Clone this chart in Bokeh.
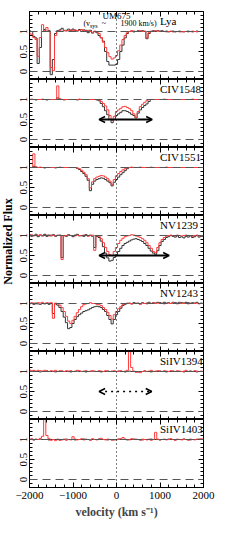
import math
from bokeh.plotting import figure
from bokeh.layouts import column, row
from bokeh.models import (Range1d, FixedTicker, LinearAxis, Span, Label, Arrow,
                          OpenHead, ColumnDataSource)
from bokeh.embed import file_html
from bokeh.resources import INLINE

# ---------------- data ----------------
VELOCITY = [
    -2000, -1950, -1900, -1850, -1800, -1750, -1700, -1650, -1600, -1550,
    -1500, -1450, -1400, -1350, -1300, -1250, -1200, -1150, -1100, -1050,
    -1000, -950, -900, -850, -800, -750, -700, -650, -600, -550,
    -500, -450, -400, -350, -300, -250, -200, -150, -100, -50,
    0, 50, 100, 150, 200, 250, 300, 350, 400, 450,
    500, 550, 600, 650, 700, 750, 800, 850, 900, 950,
    1000, 1050, 1100, 1150, 1200, 1250, 1300, 1350, 1400, 1450,
    1500, 1550, 1600, 1650, 1700, 1750, 1800, 1850, 1900, 1950,
    2000]

LYA_BLACK = [
    1.02, 1.00, 0.88, 0.84, 0.20, 0.60, 1.00, 1.05, 1.00, 1.02,
    -0.08, 0.30, 0.95, 1.02, 1.04, 1.08, 1.02, 1.03, 1.06, 1.02,
    1.06, 1.03, 1.01, 1.05, 1.00, 1.04, 1.03, 0.97, 1.03, 0.96,
    1.00, 0.97, 0.90, 0.84, 0.76, 0.50, 0.25, 0.16, 0.16, 0.16,
    0.18, 0.30, 0.50, 0.66, 0.84, 0.95, 1.00, 1.01, 0.99, 1.00,
    1.02, 1.00, 1.02, 1.00, 0.82, 0.95, 1.00, 1.02, 1.00, 1.02,
    1.01, 1.02, 1.00, 1.01, 0.99, 1.00, 1.01, 0.99, 1.00, 1.01,
    1.00, 0.99, 1.00, 1.01, 1.00, 0.99, 1.00, 1.01, 1.00, 1.00,
    1.00]
LYA_RED = [
    0.96, 0.93, 0.85, 0.80, 0.38, 0.85, 1.17, 1.02, 1.10, 1.00,
    0.10, 0.02, 0.90, 1.00, 1.02, 1.00, 1.03, 1.01, 1.02, 1.04,
    1.02, 1.04, 1.02, 1.03, 1.05, 1.02, 1.01, 1.03, 1.00, 0.98,
    1.01, 0.99, 0.95, 0.85, 0.73, 0.60, 0.47, 0.37, 0.31, 0.34,
    0.40, 0.52, 0.66, 0.80, 0.90, 0.97, 1.00, 1.02, 1.01, 1.00,
    1.01, 1.02, 1.00, 1.01, 0.84, 0.97, 1.01, 1.00, 1.02, 1.01,
    1.00, 1.01, 1.00, 0.99, 1.00, 1.01, 0.99, 1.00, 1.00, 0.99,
    0.99, 1.00, 1.00, 0.99, 1.00, 1.01, 1.00, 0.99, 1.00, 1.00,
    1.00]

CIV1548_BLACK = [
    1.00, 1.00, 1.00, 0.99, 1.00, 1.00, 1.00, 1.00, 0.99, 1.00,
    1.00, 1.00, 1.00, 1.04, 1.00, 1.00, 0.99, 1.00, 1.00, 1.00,
    1.00, 1.00, 0.99, 1.00, 1.00, 1.00, 1.00, 1.00, 1.00, 1.00,
    1.00, 0.99, 0.97, 0.90, 0.82, 0.72, 0.62, 0.50, 0.42, 0.50,
    0.60, 0.64, 0.68, 0.72, 0.72, 0.70, 0.67, 0.63, 0.60, 0.54,
    0.66, 0.74, 0.80, 0.85, 0.89, 0.95, 1.00, 1.00, 1.00, 1.00,
    1.00, 1.00, 1.00, 1.00, 1.00, 1.00, 1.00, 1.00, 1.00, 1.00,
    1.00, 1.00, 1.00, 1.00, 1.00, 1.00, 1.00, 1.00, 1.00, 1.00,
    1.00]
CIV1548_RED = [
    1.00, 1.01, 1.00, 1.00, 1.00, 1.00, 1.01, 1.00, 1.00, 1.00,
    1.00, 1.00, 1.00, 1.34, 1.02, 1.00, 1.00, 1.00, 1.00, 1.00,
    1.00, 1.00, 1.00, 1.01, 1.00, 1.00, 1.00, 1.00, 1.00, 1.00,
    1.00, 1.00, 0.99, 0.95, 0.90, 0.84, 0.74, 0.60, 0.48, 0.58,
    0.70, 0.74, 0.78, 0.82, 0.83, 0.80, 0.77, 0.72, 0.64, 0.55,
    0.70, 0.82, 0.88, 0.93, 0.97, 1.00, 1.00, 1.00, 1.00, 1.00,
    1.00, 1.00, 1.01, 1.00, 1.00, 1.00, 1.00, 1.00, 1.00, 1.00,
    1.00, 1.00, 1.00, 1.00, 1.00, 1.01, 1.00, 1.00, 1.00, 1.00,
    1.00]

CIV1551_BLACK = [
    1.00, 1.00, 1.03, 1.00, 1.00, 1.00, 1.00, 0.99, 1.00, 1.00,
    1.00, 1.00, 0.99, 1.00, 1.00, 1.00, 1.00, 1.00, 1.00, 1.00,
    1.00, 1.00, 0.98, 0.95, 0.90, 0.85, 0.78, 0.68, 0.42, 0.58,
    0.66, 0.70, 0.72, 0.74, 0.73, 0.70, 0.66, 0.62, 0.54, 0.63,
    0.70, 0.76, 0.82, 0.87, 0.92, 0.97, 1.00, 1.00, 1.00, 1.00,
    1.00, 1.00, 1.00, 1.00, 1.00, 1.00, 1.00, 1.00, 1.00, 1.00,
    1.00, 1.00, 1.00, 1.00, 1.00, 1.00, 1.00, 1.00, 1.00, 1.00,
    1.00, 1.00, 1.00, 1.00, 1.00, 1.00, 1.00, 1.00, 1.00, 1.00,
    1.00]
CIV1551_RED = [
    1.00, 1.00, 1.34, 1.02, 1.00, 1.01, 1.00, 1.00, 1.00, 1.00,
    1.00, 1.00, 1.00, 1.00, 1.01, 1.00, 1.00, 1.00, 1.00, 1.00,
    1.00, 1.00, 0.99, 0.97, 0.93, 0.88, 0.82, 0.72, 0.49, 0.64,
    0.72, 0.76, 0.78, 0.80, 0.79, 0.76, 0.72, 0.66, 0.57, 0.70,
    0.79, 0.85, 0.90, 0.94, 0.97, 1.00, 1.00, 1.01, 1.00, 1.00,
    1.00, 1.01, 1.00, 1.00, 1.00, 1.00, 1.01, 1.00, 1.00, 1.00,
    1.00, 1.00, 1.00, 1.01, 1.00, 1.00, 1.00, 1.00, 1.00, 1.00,
    1.00, 1.00, 1.00, 1.00, 1.00, 1.00, 1.00, 1.00, 1.00, 1.00,
    1.00]

NV1239_BLACK = [
    1.02, 0.98, 1.00, 1.03, 0.97, 1.01, 0.99, 1.03, 0.98, 1.01,
    0.99, 1.02, 0.98, 1.00, 1.01, 0.45, 1.00, 0.98, 1.02, 1.00,
    0.97, 1.01, 1.03, 0.99, 1.00, 0.98, 1.02, 0.99, 1.01, 0.98,
    0.70, 0.98, 0.95, 0.86, 0.72, 0.56, 0.44, 0.36, 0.38, 0.45,
    0.52, 0.60, 0.68, 0.75, 0.80, 0.83, 0.86, 0.89, 0.91, 0.92,
    0.90, 0.88, 0.85, 0.80, 0.75, 0.68, 0.61, 0.56, 0.53, 0.62,
    0.75, 0.85, 0.90, 0.95, 0.97, 1.00, 0.98, 0.96, 0.99, 0.95,
    0.97, 0.94, 0.98, 0.96, 0.99, 0.95, 0.97, 1.00, 0.96, 0.98,
    0.97]
NV1239_RED = [
    1.00, 1.02, 0.99, 1.01, 1.00, 1.02, 0.99, 1.00, 1.01, 0.99,
    1.01, 1.00, 0.99, 1.01, 1.00, 0.40, 0.99, 1.00, 1.01, 1.00,
    1.00, 0.99, 1.01, 1.00, 0.99, 1.01, 1.00, 0.98, 1.00, 1.01,
    0.63, 1.00, 0.98, 0.92, 0.82, 0.70, 0.60, 0.52, 0.50, 0.60,
    0.70, 0.80, 0.88, 0.93, 0.97, 0.99, 1.00, 1.02, 1.01, 0.99,
    0.97, 0.95, 0.92, 0.88, 0.82, 0.75, 0.68, 0.60, 0.57, 0.70,
    0.82, 0.90, 0.95, 0.98, 1.00, 1.01, 1.00, 0.99, 1.01, 1.00,
    0.99, 1.00, 1.01, 0.99, 1.00, 0.98, 1.00, 1.01, 0.99, 1.00,
    1.00]

NV1243_BLACK = [
    0.99, 1.00, 0.98, 1.01, 0.99, 0.98, 1.00, 0.99, 1.00, 0.98,
    1.00, 0.75, 0.99, 0.96, 0.90, 0.80, 0.66, 0.52, 0.37, 0.40,
    0.50, 0.60, 0.67, 0.72, 0.76, 0.80, 0.82, 0.84, 0.87, 0.90,
    0.92, 0.93, 0.92, 0.90, 0.85, 0.80, 0.70, 0.60, 0.49, 0.60,
    0.72, 0.80, 0.88, 0.95, 0.98, 1.00, 1.01, 0.99, 1.02, 1.00,
    1.01, 0.99, 1.02, 1.00, 1.01, 1.03, 1.00, 1.02, 1.01, 1.03,
    1.02, 1.00, 1.03, 1.01, 1.02, 1.00, 1.03, 1.02, 1.01, 1.03,
    1.02, 1.01, 1.03, 1.02, 1.00, 1.02, 1.01, 1.03, 1.00, 1.01,
    1.00]
NV1243_RED = [
    1.00, 1.02, 1.01, 0.99, 1.02, 1.01, 1.03, 1.00, 1.02, 1.01,
    1.02, 0.63, 1.01, 1.00, 0.96, 0.90, 0.80, 0.68, 0.56, 0.50,
    0.58, 0.68, 0.77, 0.85, 0.92, 0.97, 0.99, 1.00, 1.02, 1.00,
    1.00, 0.98, 0.97, 0.95, 0.90, 0.85, 0.78, 0.70, 0.61, 0.72,
    0.80, 0.87, 0.92, 0.97, 1.00, 1.01, 1.00, 0.99, 1.00, 1.01,
    1.00, 0.98, 1.01, 1.00, 0.99, 1.01, 1.00, 1.02, 1.00, 1.01,
    1.00, 1.01, 0.99, 1.00, 1.01, 1.00, 1.02, 1.00, 0.99, 1.01,
    1.00, 1.01, 1.00, 0.99, 1.01, 1.00, 1.00, 1.01, 0.99, 1.00,
    1.00]

SIIV1394_BLACK = [
    1.00, 1.00, 1.01, 1.00, 1.00, 0.99, 1.00, 1.00, 1.01, 1.00,
    1.00, 1.00, 0.99, 1.00, 1.00, 1.01, 1.00, 1.00, 1.00, 0.99,
    1.00, 1.00, 1.01, 1.00, 1.00, 1.00, 0.99, 1.00, 1.00, 1.01,
    1.00, 1.00, 1.00, 0.99, 1.00, 1.00, 1.01, 1.00, 1.00, 1.00,
    1.00, 1.01, 1.00, 1.00, 0.99, 1.00, 1.01, 1.00, 1.00, 1.00,
    0.99, 1.00, 1.00, 1.01, 1.00, 1.00, 0.99, 1.00, 1.00, 1.00,
    1.01, 1.00, 1.00, 0.99, 1.00, 1.00, 1.01, 1.00, 1.00, 1.00,
    1.00, 0.99, 1.00, 1.00, 1.01, 1.00, 1.00, 0.99, 1.00, 1.00,
    1.00]
SIIV1394_RED = [
    1.04, 1.02, 1.03, 1.01, 1.03, 1.02, 1.01, 1.03, 1.02, 1.00,
    1.02, 1.01, 1.03, 1.00, 1.02, 1.01, 1.00, 1.02, 1.01, 1.02,
    1.00, 1.01, 1.03, 1.02, 1.00, 1.01, 1.02, 1.00, 1.01, 1.02,
    1.01, 1.00, 1.02, 1.01, 1.00, 1.02, 1.01, 1.00, 1.01, 1.02,
    1.00, 1.01, 1.02, 1.00, 1.01, 1.03, 1.65, 1.10, 1.01, 0.98,
    0.99, 0.97, 1.00, 1.02, 1.00, 1.01, 1.03, 1.00, 1.01, 1.02,
    1.01, 1.00, 1.02, 1.01, 1.00, 1.02, 1.01, 1.00, 1.02, 1.01,
    1.00, 1.01, 1.03, 1.00, 1.01, 1.00, 1.02, 1.01, 1.00, 1.01,
    1.00]

SIIV1403_BLACK = [
    1.00, 1.00, 0.99, 1.00, 1.00, 1.01, 1.00, 1.00, 1.00, 0.99,
    1.00, 1.00, 1.00, 1.00, 0.99, 1.00, 1.00, 1.01, 1.00, 1.00,
    1.00, 0.99, 1.00, 1.00, 1.00, 1.01, 1.00, 1.00, 0.99, 1.00,
    1.00, 1.00, 1.01, 1.00, 1.00, 1.00, 0.99, 1.00, 1.00, 0.99,
    1.00, 1.01, 1.00, 1.00, 1.00, 0.99, 1.00, 1.00, 1.01, 1.00,
    1.00, 1.00, 0.99, 1.00, 1.00, 1.00, 1.01, 1.00, 1.00, 1.00,
    0.99, 1.00, 1.00, 1.00, 1.01, 1.00, 1.00, 0.99, 1.00, 1.00,
    1.00, 1.01, 1.00, 1.00, 0.99, 1.00, 1.00, 1.00, 1.01, 1.00,
    1.00]
SIIV1403_RED = [
    1.00, 1.02, 0.99, 1.01, 1.00, 1.03, 1.08, 1.50, 1.10, 1.02,
    0.98, 1.00, 0.97, 1.01, 0.98, 0.99, 1.01, 0.98, 1.00, 0.99,
    1.07, 1.01, 0.99, 1.00, 1.02, 0.99, 1.01, 1.00, 0.98, 1.02,
    1.00, 0.99, 1.01, 1.03, 1.00, 0.99, 1.01, 1.00, 0.98, 1.00,
    0.99, 1.01, 1.02, 1.05, 1.01, 1.00, 0.99, 1.02, 1.00, 1.01,
    1.00, 0.98, 1.01, 1.00, 0.99, 1.01, 0.98, 1.00, 1.18, 1.01,
    0.99, 1.00, 1.01, 0.99, 1.00, 1.02, 1.00, 0.98, 1.01, 1.00,
    0.99, 1.01, 1.00, 0.98, 1.01, 1.00, 0.99, 1.01, 1.00, 1.02,
    1.00]

PANEL_NAMES = ["Lya", "CIV1548", "CIV1551", "NV1239", "NV1243", "SiIV1394", "SiIV1403"]
BLACK_SERIES = [LYA_BLACK, CIV1548_BLACK, CIV1551_BLACK, NV1239_BLACK,
                NV1243_BLACK, SIIV1394_BLACK, SIIV1403_BLACK]
RED_SERIES = [LYA_RED, CIV1548_RED, CIV1551_RED, NV1239_RED,
              NV1243_RED, SIIV1394_RED, SIIV1403_RED]

# velocity ranges marked with arrows
ARROW_PANEL = [1, 3, 5]
ARROW_START = [-400, -400, -400]
ARROW_END = [820, 1210, 810]
ARROW_LEVEL = [0.5, 0.5, 0.5]
ARROW_SOLID = [True, True, False]

X_TICKS = [-2000, -1000, 0, 1000, 2000]
X_TICK_LABELS = ["\u22122000", "\u22121000", "0", "1000", "2000"]
Y_TICKS = [0, 0.5, 1]
Y_TICK_LABELS = ["0", "0.5", "1"]

# ---------------- style ----------------
FONT = "Liberation Serif"
FRAME_W, FRAME_H = 174, 68
X0, X1, Y0, Y1 = -2000, 2000, -0.2, 1.5
LEFT_B, RIGHT_B, TOP_B = 16, 16, 11
X_MINOR = [-2000 + 200 * k for k in range(21)]
Y_MINOR = [round(-0.2 + 0.1 * k, 2) for k in range(18)]
BLACK_COLOR = "#333333"
RED_COLOR = "#ff3b3b"
MAJOR_LEN, MINOR_LEN = 5, 3


def base_axis(ax):
    ax.major_tick_out = 0
    ax.minor_tick_out = 0
    ax.axis_line_color = "black"
    ax.major_tick_line_color = "black"
    ax.minor_tick_line_color = "black"


def labelled_axis(ticks, minor, labels, vertical=False):
    ax = LinearAxis(ticker=FixedTicker(ticks=ticks, minor_ticks=minor))
    base_axis(ax)
    ax.major_tick_in = MAJOR_LEN
    ax.minor_tick_in = MINOR_LEN
    ax.major_label_overrides = {t: l for t, l in zip(ticks, labels)}
    ax.major_label_text_font = FONT
    ax.major_label_text_font_size = "11px"
    ax.major_label_text_color = "black"
    ax.major_label_standoff = 4
    if vertical:
        ax.major_label_orientation = "vertical"
        ax.major_label_standoff = 3
    return ax


def tick_only_axes(ticks, minor, loc):
    """Two label-free axes (ticks drawn as 'minor' ticks) fixed at a frame edge."""
    out = []
    for tks, ln in ((ticks, MAJOR_LEN), (minor, MINOR_LEN)):
        ax = LinearAxis(ticker=FixedTicker(ticks=[], minor_ticks=tks),
                        fixed_location=loc)
        base_axis(ax)
        ax.major_tick_in = 0
        ax.minor_tick_in = ln
        ax.major_label_standoff = 0
        ax.major_label_text_font_size = "0px"
        ax.axis_label_standoff = 0
        out.append(ax)
    return out


def make_panel(idx):
    top = idx == 0
    bottom = idx == len(PANEL_NAMES) - 1
    p = figure(frame_width=FRAME_W, frame_height=FRAME_H,
               x_range=Range1d(X0, X1), y_range=Range1d(Y0, Y1),
               x_axis_location=None, y_axis_location=None, title=None,
               output_backend="svg", toolbar_location=None,
               min_border_left=LEFT_B, min_border_right=RIGHT_B,
               min_border_top=TOP_B if top else 0,
               min_border_bottom=4 if bottom else 0)
    p.grid.visible = False
    p.outline_line_color = "black"
    p.outline_line_width = 1
    p.background_fill_color = "white"
    p.border_fill_color = "white"

    p.add_layout(labelled_axis(Y_TICKS, Y_MINOR, Y_TICK_LABELS, vertical=True), "left")
    for ax in tick_only_axes(Y_TICKS, Y_MINOR, X1):
        p.add_layout(ax, "right")
    for ax in tick_only_axes(X_TICKS, X_MINOR, Y1):
        p.add_layout(ax, "above")
    if bottom:
        xb = labelled_axis(X_TICKS, X_MINOR, X_TICK_LABELS)
        xb.axis_label = "velocity (km s\u207b\u00b9)"
        xb.axis_label_text_font = FONT
        xb.axis_label_text_font_style = "bold"
        xb.axis_label_text_font_size = "12px"
        xb.axis_label_standoff = 3
        p.add_layout(xb, "below")
    else:
        for ax in tick_only_axes(X_TICKS, X_MINOR, Y0):
            p.add_layout(ax, "below")

    for lvl in (0, 1):
        p.add_layout(Span(location=lvl, dimension="width", line_color="#555555",
                          line_width=1.1, line_dash="8 5"))
    p.add_layout(Span(location=0, dimension="height", line_color="black",
                      line_width=1, line_dash="1 3"))

    src = ColumnDataSource(dict(v=VELOCITY, b=BLACK_SERIES[idx], r=RED_SERIES[idx]))
    p.step("v", "b", source=src, mode="center", line_color=BLACK_COLOR, line_width=1)
    p.step("v", "r", source=src, mode="center", line_color=RED_COLOR, line_width=1)

    for k, pi in enumerate(ARROW_PANEL):
        if pi != idx:
            continue
        solid = ARROW_SOLID[k]
        lw = 2 if solid else 1.5
        dash = "solid" if solid else "2 4"
        p.add_layout(Arrow(x_start=ARROW_START[k], y_start=ARROW_LEVEL[k],
                           x_end=ARROW_END[k], y_end=ARROW_LEVEL[k],
                           line_width=lw, line_dash=dash, line_color="black",
                           start=OpenHead(size=6, line_width=1.5, line_color="black"),
                           end=OpenHead(size=6, line_width=1.5, line_color="black")))

    p.add_layout(Label(x=1000, y=1.27, text=PANEL_NAMES[idx], text_font=FONT,
                       text_font_size="11px", text_baseline="middle",
                       text_align="left", text_color="black"))
    if top:
        p.add_layout(Label(x=0, y=1.38, text="UM675", text_font=FONT,
                           text_font_size="9px", text_baseline="middle",
                           text_align="center", text_color="black"))
        p.add_layout(Label(x=-760, y=1.19, text="(v", text_font=FONT,
                           text_font_size="8px", text_baseline="middle",
                           text_align="left", text_color="black"))
        p.add_layout(Label(x=-610, y=1.13, text="sys", text_font=FONT,
                           text_font_size="6px", text_baseline="middle",
                           text_align="left", text_color="black"))
        p.add_layout(Label(x=-340, y=1.21, text="~", text_font=FONT,
                           text_font_size="8px", text_baseline="middle",
                           text_align="left", text_color="black"))
        p.add_layout(Label(x=90, y=1.19, text="1900 km/s)", text_font=FONT,
                           text_font_size="8px", text_baseline="middle",
                           text_align="left", text_color="black"))
    return p


panels = [make_panel(i) for i in range(len(PANEL_NAMES))]

LABEL_W, LABEL_H = 13, 527
lab = figure(width=LABEL_W, height=LABEL_H, x_range=Range1d(0, LABEL_W),
             y_range=Range1d(0, LABEL_H), output_backend="svg", title=None,
             x_axis_location=None, y_axis_location=None,
             toolbar_location=None, min_border=0)
lab.grid.visible = False
lab.outline_line_color = None
lab.add_layout(Label(x=7, y=LABEL_H - 241, text="Normalized Flux", angle=math.pi / 2,
                     text_font=FONT, text_font_size="12px", text_font_style="bold",
                     text_align="center", text_baseline="middle", text_color="black"))

layout = row(lab, column(*panels))
open("out.html", "w").write(file_html(layout, INLINE))
